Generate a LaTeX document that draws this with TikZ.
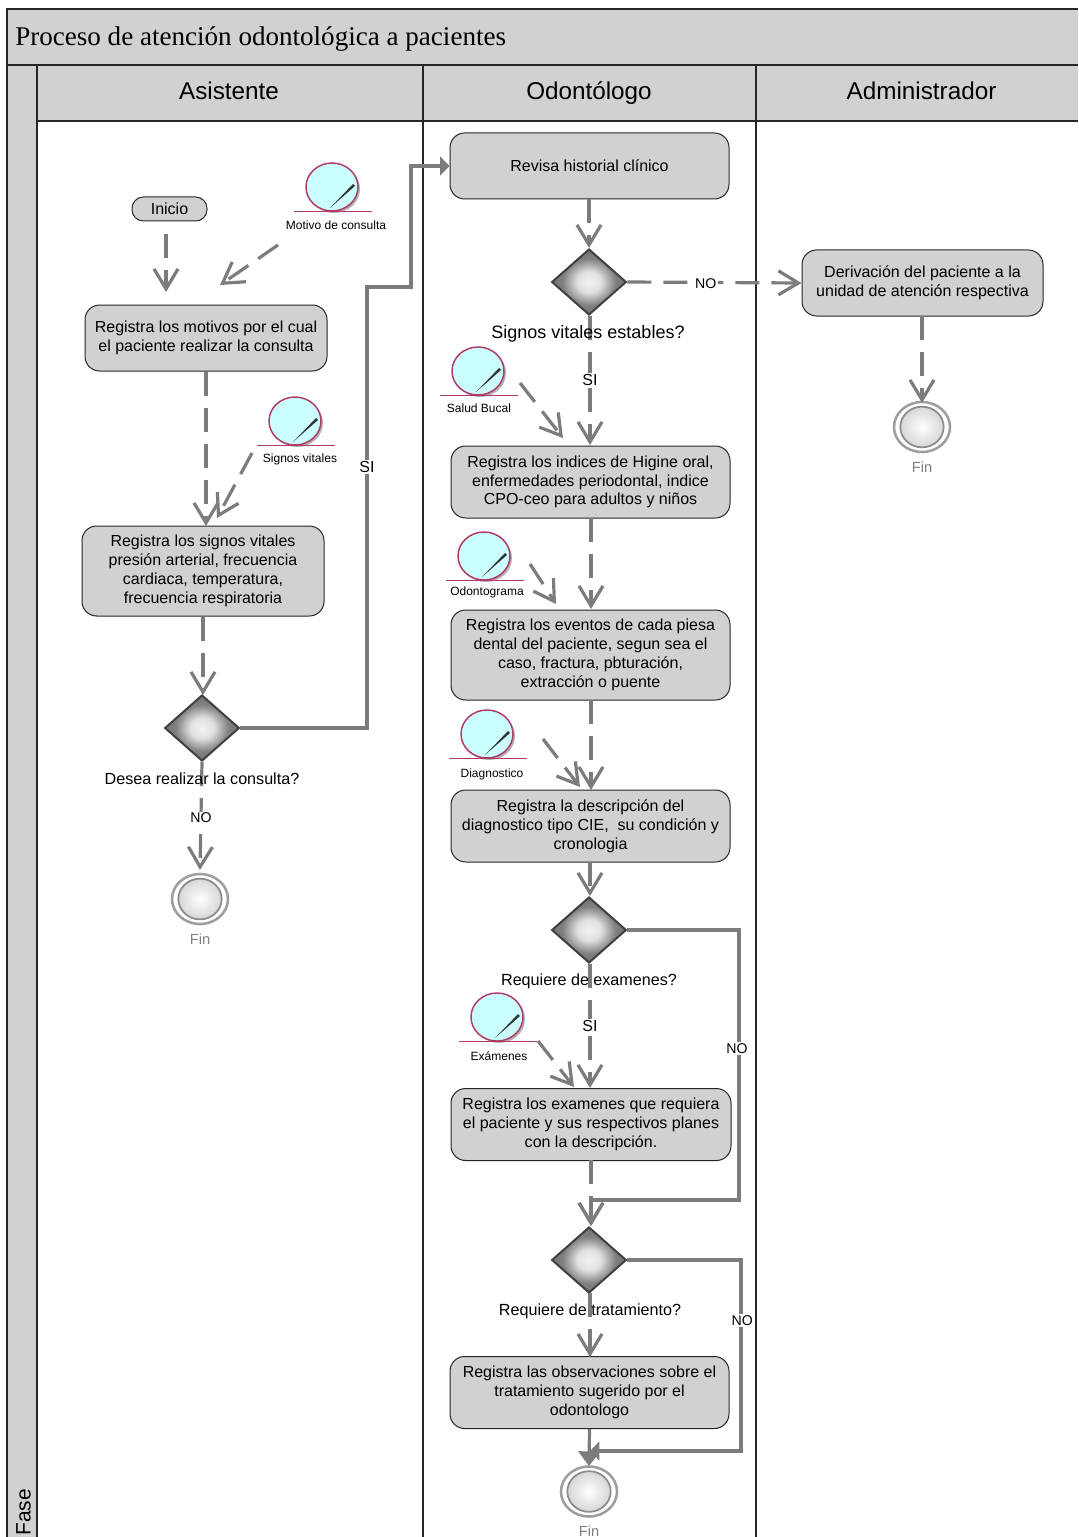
\documentclass[tikz,border=0pt]{standalone}
\usepackage{fontspec}
\setmainfont{Liberation Sans}
\newfontfamily\titlefont{Liberation Serif}
\usetikzlibrary{arrows.meta,shapes.geometric,shadows}
\definecolor{band}{HTML}{D1D1D1}
\definecolor{flowgray}{HTML}{7C7C7C}
\definecolor{objfill}{HTML}{CBFFFF}
\definecolor{objline}{HTML}{B03A68}
\definecolor{fintext}{HTML}{7F7F7F}
\pgfdeclareradialshading{gateshade}{\pgfpoint{0bp}{0bp}}{color(0bp)=(black!5); color(8bp)=(black!12); color(18bp)=(black!50); color(25bp)=(black!55); color(50bp)=(black!55)}
\tikzset{
  x=0.75pt,y=-0.75pt,
  bandfill/.style={fill=band,draw=none},
  lane/.style={draw=black!85,line width=0.85pt},
  headtext/.style={font=\fontsize{18.2}{22}\selectfont,inner sep=0pt,anchor=base},
  task/.style={draw=black!85,line width=0.75pt,fill=band,rounded corners=11pt,align=center,inner sep=0pt,
    font=\fontsize{12}{14.1}\selectfont},
  gate/.style={diamond,draw=black!75,line width=1.5pt,inner sep=0pt,minimum width=56pt,minimum height=49.5pt,aspect=1.13,
    shading=gateshade},
  gatetext/.style={font=\fontsize{12.1}{14}\selectfont,inner sep=0pt},
  endring/.style={ellipse,draw=black!38,line width=1.9pt,fill=white,minimum width=42pt,minimum height=37.5pt,inner sep=0pt},
  endcore/.style={ellipse,draw=black!45,line width=1.3pt,minimum width=32.5pt,minimum height=30.5pt,inner sep=0pt,inner color=white,outer color=black!16},
  fintext/.style={text=fintext,font=\fontsize{11}{13}\selectfont,inner sep=0pt},
  objc/.style={ellipse,draw=objline,line width=1.1pt,fill=objfill,minimum width=39pt,minimum height=36pt,inner sep=0pt,
    general shadow={fill=black!30,shadow xshift=1.5pt,shadow yshift=-1.5pt}},
  objbase/.style={draw=objline,line width=1.2pt},
  needle/.style={fill=black!80,draw=none},
  objtext/.style={font=\fontsize{9}{10}\selectfont,inner sep=0pt},
  flow/.style={draw=flowgray,line width=2.4pt,-{Straight Barb[length=15pt,width=18pt,line width=2.4pt]}},
  dflow/.style={flow,dash pattern=on 18pt off 9pt},
  sflow/.style={flow},
  solidtip/.style={draw=flowgray,line width=2.4pt,-{Triangle[length=7pt,width=14pt,fill=flowgray]}},
  bigtip/.style={draw=flowgray,line width=2.4pt,-{Triangle[length=11pt,width=16pt,fill=flowgray]}},
  edgelab/.style={fill=white,font=\fontsize{12}{13}\selectfont,inner sep=1pt,yshift=-0.6pt},
  nolab/.style={edgelab,font=\fontsize{10.6}{13}\selectfont},
}
\newcommand{\dataobj}[6]{% name, cx, cy, label, label x, label y
  \node[objc] (#1) at (#2,#3) {};
  \coordinate (#1A) at (#2-38,#3+24.5);
  \coordinate (#1B) at (#2+40,#3+24.5);
  \coordinate (#1C) at (#2-2,#3+21);
  \coordinate (#1D) at (#2+21,#3-3);
  \coordinate (#1E) at (#2+23,#3-1);
  \fill[needle] (#1C) -- (#1D) -- (#1E) -- cycle;
  \draw[objbase] (#1A) -- (#1B);
  \node[objtext] (#1L) at (#5,#6) {#4};
}
\newcommand{\finnode}[3]{% name, cx, cy
  \node[endring] (#1) at (#2,#3) {};
  \node[endcore] (#1c) at (#2,#3) {};
  \node[fintext] (#1L) at (#2,#3+40) {Fin};
}
\begin{document}
\begin{tikzpicture}
\useasboundingbox (0,0) rectangle (1078,1537);
% frame
\path[bandfill] (7,9) rectangle (1078,65);
\path[bandfill] (7,65) rectangle (37,1537);
\path[bandfill] (37,65) rectangle (1078,121);
\draw[lane] (1078,9) -- (7,9) -- (7,1537);
\draw[lane] (7,65) -- (1078,65);
\draw[lane] (37,65) -- (37,1537);
\draw[lane] (37,121) -- (1078,121);
\draw[lane] (423,65) -- (423,1537);
\draw[lane] (756,65) -- (756,1537);
\node[anchor=west,inner sep=0pt,font=\titlefont\fontsize{20.3}{24}\selectfont] (title) at (15,39.5) {Proceso de atención odontológica a pacientes};
\node[headtext] (h1) at (229,100) {Asistente};
\node[headtext] (h2) at (589,100) {Odontólogo};
\node[headtext] (h3) at (921.5,100) {Administrador};
\node[rotate=90,anchor=base west,inner sep=0pt,font=\fontsize{15.7}{20}\selectfont] (fase) at (30.5,1536) {Fase};
% tasks
\node[task,rounded corners=8.5pt,minimum width=56.25pt,minimum height=18pt] (ini) at (169.5,209) {Inicio};
\node[task,minimum width=181.5pt,minimum height=49.5pt] (t1) at (206,338) {Registra los motivos por el cual\\el paciente realizar la consulta};
\node[task,minimum width=181.5pt,minimum height=67.5pt] (t2) at (203,571) {Registra los signos vitales\\presión arterial, frecuencia\\cardiaca, temperatura,\\frecuencia respiratoria};
\node[task,minimum width=209.25pt,minimum height=49.5pt] (rev) at (589.5,166) {Revisa historial clínico};
\node[task,minimum width=180.75pt,minimum height=49.5pt] (der) at (922.5,283) {Derivación del paciente a la\\unidad de atención respectiva};
\node[task,minimum width=209.25pt,minimum height=54pt] (t3) at (590.5,482) {Registra los indices de Higine oral,\\enfermedades periodontal, indice\\CPO-ceo para adultos y niños};
\node[task,minimum width=209.25pt,minimum height=67.5pt] (t4) at (590.5,655) {Registra los eventos de cada piesa\\dental del paciente, segun sea el\\caso, fractura, pbturación,\\extracción o puente};
\node[task,minimum width=209.25pt,minimum height=54pt] (t5) at (590.5,826) {Registra la descripción del\\diagnostico tipo CIE,\ \ su condición y\\cronologia};
\node[task,minimum width=210pt,minimum height=54pt] (t6) at (591,1124.5) {Registra los examenes que requiera\\el paciente y sus respectivos planes\\con la descripción.};
\node[task,minimum width=209.25pt,minimum height=54pt] (t7) at (589.5,1392.5) {Registra las observaciones sobre el\\tratamiento sugerido por el\\odontologo};
% gateways
\node[gate] (d1) at (202,728) {};
\node[gate] (d2) at (589,282) {};
\node[gate] (d3) at (589,930) {};
\node[gate] (d4) at (589,1260) {};
% ends
\finnode{f1}{200}{899}
\finnode{f2}{922}{427}
\finnode{f3}{589}{1491.5}
% data objects
\dataobj{om}{332}{187}{Motivo de consulta}{336}{225.5}
\dataobj{os}{295}{421}{Signos vitales}{300}{459.5}
\dataobj{ob}{478}{371}{Salud Bucal}{479}{408.5}
\dataobj{oo}{484}{556}{Odontograma}{487}{592.5}
\dataobj{od}{487}{734}{Diagnostico}{492}{774.5}
\dataobj{oe}{497}{1017}{Exámenes}{499}{1056.5}
% connectors
\coordinate (iniA) at (166,234);
\coordinate (t1A) at (166,292);
\coordinate (omA) at (278,245);
\coordinate (t1B) at (220,285);
\coordinate (osA) at (252,453);
\coordinate (t2A) at (217,518);
\coordinate (obA) at (520,383);
\coordinate (t3A) at (563,438);
\coordinate (ooA) at (530,564);
\coordinate (t4A) at (556,604);
\coordinate (odA) at (543,739);
\coordinate (t5A) at (580,787);
\coordinate (oeA) at (538,1041);
\coordinate (t6A) at (574,1087);
\draw[dflow] (iniA) -- (t1A);
\draw[dflow] (omA) -- (t1B);
\draw[dflow] (t1.south) -- (206,526);
\draw[dflow] (osA) -- (t2A);
\draw[dflow] (t2.south) -- (203,695);
\draw[solidtip] (d1.east) -- (367,728) -- node[edgelab,pos=0.594] (siA) {SI} (367,287) -- (411,287) -- (411,166) -- (rev.west);
\draw[dflow] (202,762) -- node[nolab,pos=0.51] (noA) {NO} (200,870);
\draw[dflow] (589,199) -- (589,248);
\draw[dflow] (590,316) -- node[edgelab,pos=0.49] (siB) {SI} (590,445);
\draw[dflow] (d2.east) -- node[nolab,pos=0.45] (noB) {NO} (der.west);
\draw[dflow] (922,316) -- (922,403);
\draw[dflow] (obA) -- (t3A);
\draw[dflow] (591,518) -- (591,609);
\draw[dflow] (ooA) -- (t4A);
\draw[dflow] (591,700) -- (591,790);
\draw[dflow] (odA) -- (t5A);
\draw[dflow] (590,862) -- (590,896);
\draw[dflow] (590,964) -- node[edgelab,pos=0.49] (siC) {SI} (590,1088);
\draw[dflow] (oeA) -- (t6A);
\draw[sflow] (d3.east) -- (739,930) -- node[nolab,pos=0.437,xshift=-1.5pt] (noC) {NO} (739,1200) -- (591,1200) -- (591,1226);
\draw[dflow] (591,1160) -- (591,1226);
\draw[dflow] (590,1293) -- (590,1357);
\draw[solidtip] (d4.east) -- (741,1260) -- node[nolab,pos=0.314,xshift=1pt] (noD) {NO} (741,1451) -- (590,1451);
\draw[bigtip] (t7.south) -- (589,1466);
% gateway captions
\node[gatetext] (c1) at (202,778.5) {Desea realizar la consulta?};
\node[gatetext,font=\fontsize{13.5}{15}\selectfont] (c2) at (588,334) {Signos vitales estables?};
\node[gatetext] (c3) at (589,981.5) {Requiere de examenes?};
\node[gatetext] (c4) at (590,1311.5) {Requiere de tratamiento?};
\end{tikzpicture}
\end{document}
